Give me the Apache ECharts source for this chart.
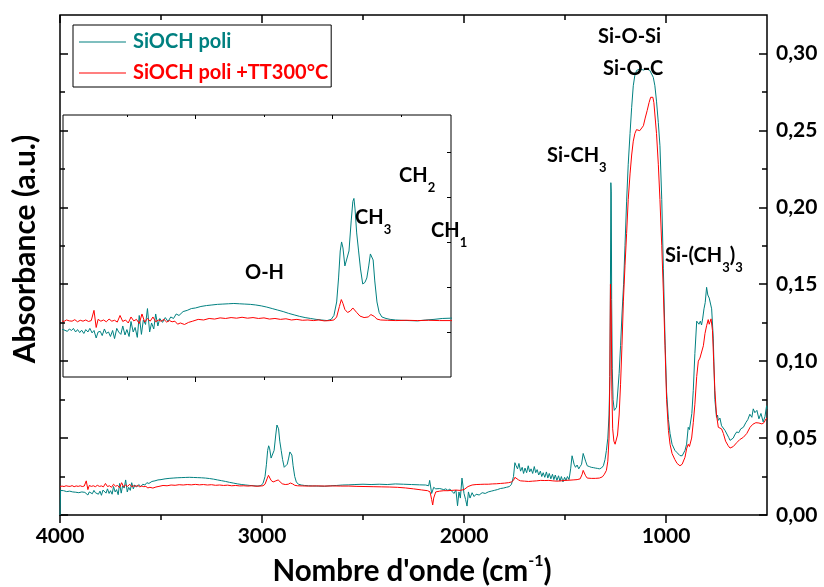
<!DOCTYPE html>
<html><head><meta charset="utf-8">
<script src="https://cdn.jsdelivr.net/npm/echarts@6/dist/echarts.min.js"></script>
<style>html,body{margin:0;padding:0;background:#fff}#c{width:824px;height:587px}</style>
</head><body><div id="c"></div>
<script>
const seriesNames = ['SiOCH poli', 'SiOCH poli +TT300°C'];
const xTitle = "Nombre d'onde (cm";
const xTitleSup = '-1';
const yTitle = 'Absorbance (a.u.)';

// [wavenumber cm-1, absorbance]
const tealSpectrum = [[4000,0.000],[3997,0.016],[3990,0.0165],[3982,0.0158],[3975,0.0163],[3967,0.0152],[3960,0.0160],[3952,0.0155],[3945,0.0162],[3937,0.0150],[3930,0.0158],[3922,0.0148],[3915,0.0156],[3907,0.0145],[3900,0.0158],[3892,0.0150],[3885,0.0162],[3877,0.0147],[3870,0.0155],[3862,0.0130],[3855,0.0150],[3847,0.0152],[3840,0.0138],[3832,0.0160],[3825,0.0145],[3817,0.0150],[3810,0.0135],[3802,0.0155],[3795,0.0128],[3787,0.0162],[3780,0.0150],[3772,0.0142],[3765,0.0170],[3757,0.0140],[3750,0.0158],[3742,0.0135],[3735,0.0185],[3727,0.0150],[3720,0.0165],[3712,0.0132],[3705,0.0205],[3697,0.0142],[3690,0.0190],[3682,0.0175],[3675,0.0228],[3667,0.0150],[3660,0.0180],[3652,0.0160],[3645,0.0210],[3637,0.0170],[3630,0.0195],[3620,0.0182],[3610,0.0198],[3600,0.0185],[3590,0.0200],[3580,0.0195],[3570,0.0210],[3560,0.0205],[3545,0.0218],[3530,0.0222],[3515,0.0228],[3500,0.0230],[3480,0.0235],[3460,0.0238],[3440,0.0240],[3420,0.0242],[3400,0.0243],[3380,0.0244],[3360,0.0245],[3340,0.0244],[3320,0.0243],[3300,0.0242],[3280,0.0240],[3260,0.0237],[3240,0.0233],[3220,0.0228],[3200,0.0223],[3180,0.0218],[3160,0.0212],[3140,0.0207],[3120,0.0202],[3100,0.0198],[3080,0.0195],[3060,0.0192],[3040,0.0190],[3020,0.0188],[3005,0.0192],[2995,0.0205],[2985,0.0250],[2978,0.0330],[2972,0.0420],[2967,0.0450],[2962,0.0430],[2955,0.0370],[2948,0.0365],[2940,0.0420],[2932,0.0520],[2926,0.0585],[2922,0.0595],[2918,0.0560],[2912,0.0480],[2905,0.0420],[2898,0.0360],[2890,0.0310],[2882,0.0315],[2875,0.0330],[2868,0.0370],[2862,0.0410],[2856,0.0415],[2852,0.0390],[2846,0.0320],[2838,0.0250],[2830,0.0215],[2820,0.0200],[2805,0.0195],[2790,0.0192],[2770,0.0190],[2750,0.0189],[2720,0.0188],[2690,0.0187],[2660,0.0190],[2630,0.0192],[2600,0.0195],[2570,0.0196],[2540,0.0198],[2500,0.0200],[2460,0.0198],[2420,0.0200],[2380,0.0198],[2340,0.0202],[2300,0.0200],[2260,0.0198],[2220,0.0196],[2190,0.0195],[2175,0.0190],[2170,0.0225],[2160,0.0140],[2150,0.0180],[2140,0.0170],[2120,0.0172],[2100,0.0165],[2090,0.0170],[2080,0.0160],[2070,0.0168],[2060,0.0155],[2050,0.0140],[2040,0.0162],[2032,0.0060],[2025,0.0150],[2018,0.0110],[2010,0.0240],[2000,0.0140],[1992,0.0100],[1985,0.0058],[1978,0.0150],[1970,0.0110],[1960,0.0145],[1950,0.0120],[1940,0.0135],[1925,0.0130],[1910,0.0145],[1895,0.0140],[1880,0.0150],[1865,0.0155],[1850,0.0160],[1835,0.0165],[1820,0.0172],[1805,0.0175],[1790,0.0180],[1775,0.0185],[1765,0.0200],[1755,0.0250],[1748,0.0340],[1742,0.0320],[1735,0.0300],[1728,0.0335],[1720,0.0285],[1712,0.0310],[1705,0.0270],[1698,0.0305],[1690,0.0275],[1682,0.0320],[1675,0.0280],[1668,0.0300],[1660,0.0270],[1652,0.0315],[1645,0.0275],[1638,0.0295],[1630,0.0260],[1622,0.0285],[1615,0.0250],[1608,0.0275],[1600,0.0245],[1592,0.0280],[1585,0.0240],[1578,0.0270],[1570,0.0235],[1562,0.0265],[1555,0.0230],[1548,0.0260],[1540,0.0225],[1532,0.0255],[1525,0.0220],[1518,0.0250],[1510,0.0215],[1502,0.0245],[1495,0.0225],[1488,0.0250],[1480,0.0230],[1472,0.0300],[1465,0.0385],[1460,0.0380],[1455,0.0330],[1448,0.0310],[1440,0.0325],[1432,0.0300],[1425,0.0315],[1418,0.0330],[1410,0.0400],[1405,0.0395],[1398,0.0350],[1390,0.0320],[1380,0.0315],[1370,0.0310],[1360,0.0308],[1350,0.0305],[1340,0.0303],[1330,0.0300],[1320,0.0305],[1310,0.0320],[1302,0.0360],[1295,0.0420],[1288,0.0500],[1282,0.0650],[1278,0.0900],[1275,0.1500],[1273,0.2160],[1271,0.2100],[1269,0.1400],[1266,0.0950],[1262,0.0750],[1256,0.0680],[1250,0.0670],[1245,0.0700],[1240,0.0780],[1232,0.0920],[1225,0.1100],[1218,0.1300],[1210,0.1500],[1203,0.1750],[1195,0.2040],[1187,0.2280],[1178,0.2480],[1170,0.2650],[1162,0.2790],[1154,0.2860],[1145,0.2890],[1137,0.2900],[1129,0.2900],[1120,0.2895],[1112,0.2892],[1104,0.2890],[1096,0.2900],[1088,0.2893],[1080,0.2890],[1072,0.2880],[1063,0.2845],[1055,0.2790],[1047,0.2690],[1038,0.2550],[1030,0.2400],[1021,0.2050],[1013,0.1600],[1005,0.1150],[997,0.0800],[988,0.0620],[980,0.0530],[970,0.0460],[956,0.0420],[945,0.0405],[931,0.0386],[920,0.0385],[906,0.0420],[898,0.0460],[890,0.0570],[884,0.0555],[878,0.0560],[872,0.0660],[865,0.0810],[857,0.1050],[848,0.1260],[842,0.1255],[837,0.1240],[830,0.1260],[824,0.1235],[818,0.1280],[812,0.1340],[806,0.1380],[799,0.1480],[793,0.1430],[786,0.1410],[780,0.1420],[774,0.1340],[766,0.1150],[758,0.0750],[750,0.0635],[745,0.0650],[741,0.0615],[733,0.0630],[725,0.0580],[716,0.0575],[708,0.0550],[700,0.0545],[690,0.0505],[683,0.0485],[675,0.0475],[667,0.0500],[660,0.0520],[650,0.0540],[640,0.0535],[630,0.0560],[617,0.0570],[605,0.0600],[595,0.0620],[585,0.0655],[575,0.0635],[568,0.0690],[560,0.0665],[550,0.0680],[540,0.0625],[530,0.0660],[519,0.0605],[510,0.0640],[502,0.0710],[500,0.0690]];

const redSpectrum = [[4000,0.0185],[3990,0.0188],[3980,0.0185],[3970,0.0190],[3960,0.0187],[3950,0.0186],[3940,0.0191],[3930,0.0184],[3920,0.0189],[3910,0.0186],[3900,0.0190],[3890,0.0185],[3880,0.0188],[3870,0.0222],[3862,0.0165],[3855,0.0192],[3845,0.0186],[3835,0.0190],[3825,0.0184],[3815,0.0193],[3805,0.0186],[3795,0.0189],[3785,0.0183],[3775,0.0205],[3765,0.0185],[3755,0.0190],[3745,0.0180],[3735,0.0200],[3725,0.0187],[3715,0.0192],[3705,0.0178],[3695,0.0210],[3685,0.0183],[3675,0.0195],[3665,0.0186],[3655,0.0200],[3645,0.0184],[3635,0.0190],[3625,0.0186],[3615,0.0192],[3605,0.0183],[3595,0.0188],[3585,0.0184],[3575,0.0186],[3565,0.0176],[3555,0.0180],[3540,0.0175],[3525,0.0182],[3510,0.0186],[3490,0.0192],[3470,0.0190],[3450,0.0195],[3430,0.0193],[3410,0.0197],[3390,0.0195],[3370,0.0198],[3350,0.0196],[3330,0.0199],[3310,0.0196],[3290,0.0198],[3270,0.0195],[3250,0.0197],[3230,0.0193],[3210,0.0195],[3190,0.0192],[3170,0.0194],[3150,0.0190],[3130,0.0192],[3110,0.0189],[3090,0.0190],[3070,0.0188],[3050,0.0190],[3030,0.0187],[3010,0.0188],[2995,0.0190],[2985,0.0200],[2975,0.0235],[2968,0.0258],[2962,0.0245],[2955,0.0225],[2945,0.0215],[2935,0.0220],[2926,0.0230],[2920,0.0228],[2912,0.0215],[2900,0.0203],[2885,0.0198],[2870,0.0200],[2860,0.0208],[2854,0.0210],[2848,0.0202],[2838,0.0193],[2825,0.0190],[2800,0.0189],[2770,0.0188],[2730,0.0189],[2690,0.0188],[2650,0.0189],[2610,0.0188],[2570,0.0188],[2530,0.0186],[2490,0.0185],[2450,0.0184],[2410,0.0183],[2370,0.0182],[2330,0.0180],[2290,0.0176],[2250,0.0170],[2210,0.0163],[2180,0.0158],[2168,0.0150],[2160,0.0100],[2155,0.0065],[2150,0.0110],[2140,0.0150],[2120,0.0155],[2100,0.0158],[2080,0.0158],[2060,0.0160],[2040,0.0162],[2020,0.0160],[2000,0.0165],[1980,0.0185],[1960,0.0195],[1940,0.0198],[1920,0.0199],[1900,0.0200],[1880,0.0200],[1860,0.0202],[1840,0.0203],[1820,0.0205],[1800,0.0207],[1780,0.0210],[1765,0.0215],[1755,0.0225],[1748,0.0245],[1740,0.0240],[1730,0.0228],[1720,0.0222],[1700,0.0220],[1680,0.0218],[1660,0.0220],[1640,0.0222],[1620,0.0225],[1600,0.0224],[1580,0.0225],[1560,0.0222],[1540,0.0220],[1520,0.0222],[1500,0.0225],[1480,0.0226],[1460,0.0228],[1440,0.0230],[1425,0.0235],[1415,0.0265],[1410,0.0290],[1405,0.0285],[1398,0.0255],[1390,0.0240],[1370,0.0238],[1350,0.0238],[1330,0.0240],[1315,0.0248],[1305,0.0265],[1295,0.0290],[1288,0.0350],[1282,0.0500],[1278,0.0900],[1275,0.1500],[1273,0.1500],[1271,0.1300],[1268,0.0800],[1264,0.0560],[1258,0.0480],[1252,0.0460],[1246,0.0470],[1240,0.0520],[1232,0.0650],[1225,0.0850],[1218,0.1100],[1211,0.1390],[1203,0.1620],[1195,0.1830],[1187,0.2050],[1178,0.2217],[1170,0.2340],[1162,0.2430],[1154,0.2480],[1146,0.2505],[1138,0.2508],[1130,0.2498],[1122,0.2505],[1112,0.2530],[1103,0.2580],[1093,0.2630],[1084,0.2680],[1076,0.2715],[1071,0.2726],[1065,0.2715],[1060,0.2680],[1047,0.2480],[1038,0.2280],[1030,0.2050],[1021,0.1750],[1013,0.1450],[1005,0.1100],[997,0.0750],[988,0.0550],[980,0.0460],[970,0.0400],[956,0.0360],[945,0.0335],[931,0.0320],[920,0.0330],[906,0.0375],[898,0.0430],[890,0.0460],[884,0.0445],[878,0.0450],[873,0.0500],[865,0.0600],[857,0.0720],[848,0.0900],[840,0.1000],[832,0.1020],[824,0.1020],[815,0.1100],[807,0.1180],[799,0.1230],[791,0.1270],[786,0.1240],[782,0.1230],[777,0.1275],[770,0.1200],[764,0.1000],[758,0.0810],[750,0.0650],[741,0.0570],[737,0.0580],[733,0.0560],[725,0.0560],[716,0.0530],[705,0.0480],[692,0.0450],[683,0.0435],[675,0.0435],[667,0.0445],[650,0.0470],[635,0.0490],[617,0.0505],[600,0.0530],[584,0.0570],[570,0.0590],[555,0.0600],[540,0.0598],[525,0.0592],[515,0.0600],[505,0.0625],[500,0.0630]];

const xMajorTicks = [1000, 2000, 3000, 4000];
const xMinorTicks = [1500, 2500, 3500];
const yMajorTicks = [0, 0.05, 0.10, 0.15, 0.20, 0.25, 0.30];
const yMinorTicks = [0.025, 0.075, 0.125, 0.175, 0.225, 0.275];
const insetXMajorTicks = [3000, 3500];
const insetXMinorTicks = [2750, 3250, 3750];
const insetYTicks = [0.015, 0.03, 0.045, 0.06, 0.075];

const TEAL = '#008080', RED = '#ff0000';
const F = 'Lato, "Open Sans", sans-serif';
const LINE_ICON = 'path://M0,0L0,0.01L0.01,0.01ZM0,9.4L47,9.4L47,10.6L0,10.6ZM0,20L0,20.01L0.01,20.01Z';
const chart = echarts.init(document.getElementById('c'), null, {renderer: 'canvas'});

function xAx(grid, pos, min, max, ticks, len, inside, w, label) {
  return {type: 'value', gridIndex: grid, position: pos, inverse: true, min: min, max: max,
    axisLine: {show: false, onZero: false}, splitLine: {show: false},
    axisTick: {show: true, inside: inside, length: len, customValues: ticks, lineStyle: {color: '#000', width: w}},
    axisLabel: label ? {show: true, customValues: ticks, margin: 11, color: '#000', fontSize: 21, fontWeight: 'bold', fontFamily: F,
      formatter: v => String(v)} : {show: false}};
}
function yAx(grid, pos, min, max, ticks, len, w, label) {
  return {type: 'value', gridIndex: grid, position: pos, min: min, max: max,
    axisLine: {show: false, onZero: false}, splitLine: {show: false},
    axisTick: {show: ticks.length > 0, inside: true, length: len, customValues: ticks.length ? ticks : undefined, lineStyle: {color: '#000', width: w}},
    axisLabel: label ? {show: true, customValues: ticks, margin: 9, color: '#000', fontSize: 21, fontWeight: 'bold', fontFamily: F,
      formatter: v => v.toFixed(2).replace('.', ',')} : {show: false}};
}
const sub = {fontSize: 13, fontWeight: 'bold', fontFamily: F, color: '#000', lineHeight: 13, padding: [24, 0, 0, 0]};
const main = {fontSize: 20, fontWeight: 'bold', fontFamily: F, color: '#000', lineHeight: 22};
function lab(text, left, top) {
  return {text: text, left: left, top: top, padding: 0, textStyle: {rich: {a: main, b: sub}}};
}
function line(name, data, xi, yi, color) {
  return {name: name, type: 'line', data: data, xAxisIndex: xi, yAxisIndex: yi, symbol: 'none', showSymbol: false,
    lineStyle: {color: color, width: 1}, itemStyle: {color: color}, animation: false, silent: true};
}

chart.setOption({
  animation: false,
  grid: [
    {left: 60, right: 57, top: 15, bottom: 72, show: true, borderColor: '#000', borderWidth: 1.5, backgroundColor: 'transparent', outerBoundsMode: 'none'},
    {left: 63, top: 115, width: 388, height: 262, show: true, borderColor: '#000', borderWidth: 1, backgroundColor: '#fff', outerBoundsMode: 'none'}
  ],
  xAxis: [
    xAx(0, 'bottom', 500, 4000, xMajorTicks, 8, false, 1.5, true),
    xAx(0, 'bottom', 500, 4000, xMinorTicks, 5, false, 1.5, false),
    xAx(0, 'top', 500, 4000, xMajorTicks, 8, true, 1.5, false),
    xAx(0, 'top', 500, 4000, xMinorTicks, 5, true, 1.5, false),
    xAx(1, 'bottom', 2568, 3983, insetXMajorTicks, 5, false, 1, false),
    xAx(1, 'bottom', 2568, 3983, insetXMinorTicks, 3, false, 1, false),
    xAx(1, 'top', 2568, 3983, insetXMajorTicks, 4, true, 1, false),
    xAx(1, 'top', 2568, 3983, insetXMinorTicks, 2, true, 1, false)
  ],
  yAxis: [
    yAx(0, 'left', 0, 0.325, yMajorTicks, 8, 1.5, false),
    yAx(0, 'left', 0, 0.325, yMinorTicks, 5, 1.5, false),
    yAx(0, 'right', 0, 0.325, yMajorTicks, 8, 1.5, true),
    yAx(0, 'right', 0, 0.325, yMinorTicks, 5, 1.5, false),
    yAx(1, 'left', 0, 0.0873, [], 0, 1, false),
    yAx(1, 'right', 0, 0.0873, insetYTicks, 4, 1, false)
  ],
  legend: {
    orient: 'vertical', left: 73, top: 25, padding: [7, 3, 4, 6], itemGap: 11, itemWidth: 47, itemHeight: 20,
    borderColor: '#000', borderWidth: 1, selectedMode: false, icon: LINE_ICON,
    textStyle: {fontSize: 20, fontWeight: 'bold', fontFamily: F, padding: [0, 0, 0, 2]},
    data: [{name: seriesNames[0], icon: LINE_ICON, itemStyle: {color: TEAL}, textStyle: {color: TEAL}},
           {name: seriesNames[1], icon: LINE_ICON, itemStyle: {color: RED}, textStyle: {color: RED}}]
  },
  title: [
    lab('{a|Si-O-Si}', 598, 26),
    lab('{a|Si-O-C}', 603, 58),
    lab('{a|Si-CH}{b|3}', 547, 144.5),
    lab('{a|Si-(CH}{b|3}{a|)}{b|3}', 665, 244.5),
    lab('{a|O-H}', 245, 262),
    lab('{a|CH}{b|3}', 355, 206.5),
    lab('{a|CH}{b|2}', 399, 164.5),
    lab('{a|CH}{b|1}', 431, 219.5),
    {text: '{t|' + xTitle + '}{s|' + xTitleSup + '}{t|)}', left: 'center', top: 553, padding: 0,
      textStyle: {rich: {
        t: {fontSize: 29.5, fontWeight: 'bold', fontFamily: F, color: '#000', lineHeight: 37},
        s: {fontSize: 16, fontWeight: 'bold', fontFamily: F, color: '#000', lineHeight: 16, padding: [0, 0, 21, 0]}
      }}}
  ],
  graphic: [
    {type: 'text', x: 25, y: 249, rotation: Math.PI / 2,
      style: {text: yTitle, fontSize: 30, fontWeight: 'bold', fontFamily: F, fill: '#000', align: 'center', verticalAlign: 'middle'}}
  ],
  series: [
    line(seriesNames[0], tealSpectrum, 0, 0, TEAL),
    line(seriesNames[1], redSpectrum, 0, 0, RED),
    line(seriesNames[0], tealSpectrum, 4, 4, TEAL),
    line(seriesNames[1], redSpectrum, 4, 4, RED)
  ]
});
</script></body></html>
